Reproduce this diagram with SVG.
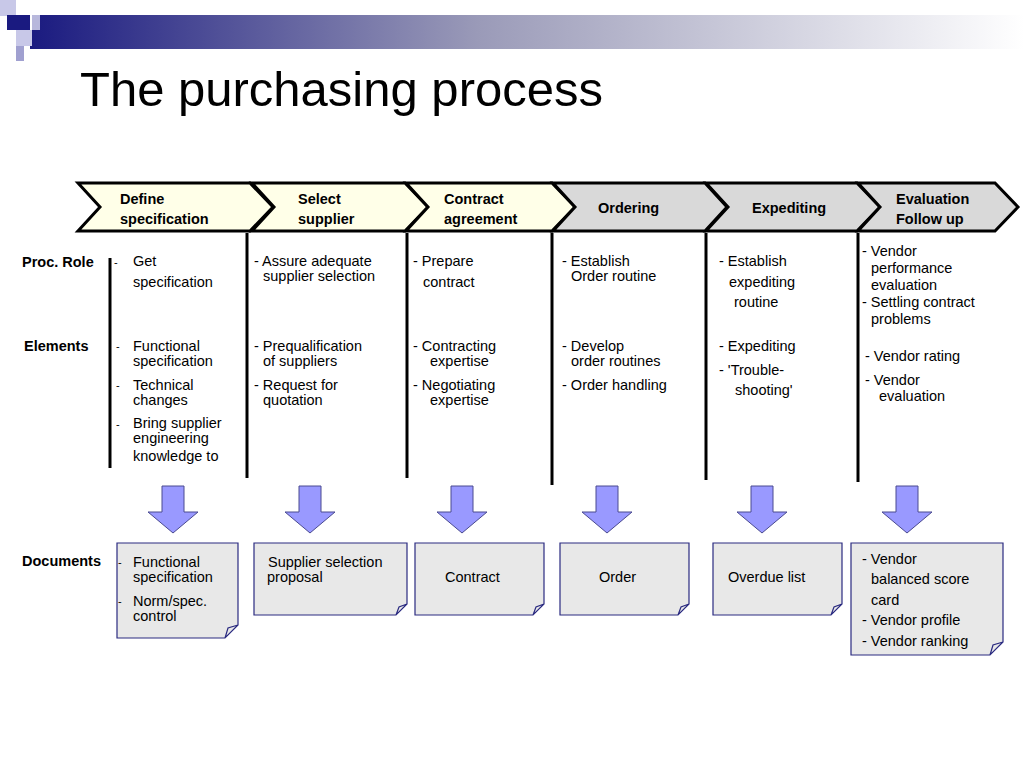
<svg xmlns="http://www.w3.org/2000/svg" width="1024" height="768" viewBox="0 0 1024 768">
<defs>
<linearGradient id="bar" x1="0" x2="1" y1="0" y2="0"><stop offset="0" stop-color="#1a1a80"/><stop offset="0.45" stop-color="#9a9ab8"/><stop offset="1" stop-color="#ffffff"/></linearGradient>
<style>
text{font-family:"Liberation Sans",Arial,sans-serif;font-size:14.5px;fill:#000}
.b{font-weight:bold}
.chy{fill:#ffffe8;stroke:#000;stroke-width:3}
.chg{fill:#d9d9d9;stroke:#000;stroke-width:3}
.vl{stroke:#000;stroke-width:3}
.arr{fill:#9999ff;stroke:#4a4a90;stroke-width:1}
.doc{fill:#e8e8e8;stroke:#2a2a80;stroke-width:1.2}
</style>
</defs>
<rect x="30" y="15" width="994" height="34" fill="url(#bar)"/>
<rect x="0" y="0" width="16" height="16" fill="#c8c8e8"/>
<rect x="7" y="15" width="24" height="15" fill="#1a1a80"/>
<rect x="30" y="15" width="10" height="15" fill="#ffffff"/>
<rect x="16" y="30" width="16" height="16" fill="#c8c8e8"/>
<rect x="32" y="15" width="8" height="15" fill="#b8b8dc"/>
<rect x="16" y="46" width="8" height="15" fill="#a0a0d0"/>
<text x="80" y="106" style="font-size:49px">The purchasing process</text>

<g id="chevrons">
<g id="c1"><polygon class="chy" points="78,183 250,183 273,207 250,231 78,231 100,207"/><text class="b" x="120" y="204">Define</text><text class="b" x="120" y="224">specification</text></g>
<g id="c2"><polygon class="chy" points="252,183 405,183 428,207 405,231 252,231 274,207"/><text class="b" x="298" y="204">Select</text><text class="b" x="298" y="224">supplier</text></g>
<g id="c3"><polygon class="chy" points="406,183 552,183 575,207 552,231 406,231 428,207"/><text class="b" x="444" y="204">Contract</text><text class="b" x="444" y="224">agreement</text></g>
<g id="c4"><polygon class="chg" points="553,183 705,183 727,207 705,231 553,231 575,207"/><text class="b" x="598" y="213">Ordering</text></g>
<g id="c5"><polygon class="chg" points="706,183 857,183 880,207 857,231 706,231 728,207"/><text class="b" x="752" y="213">Expediting</text></g>
<g id="c6"><polygon class="chg" points="858,183 995,183 1018,207 995,231 858,231 880,207"/><text class="b" x="896" y="204">Evaluation</text><text class="b" x="896" y="224">Follow up</text></g>
</g>

<g id="connectors">
<line class="vl" x1="110" y1="258" x2="110" y2="468"/>
<line class="vl" x1="247" y1="233" x2="247" y2="478"/>
<line class="vl" x1="407" y1="233" x2="407" y2="478"/>
<line class="vl" x1="552" y1="233" x2="552" y2="485"/>
<line class="vl" x1="706" y1="233" x2="706" y2="480"/>
<line class="vl" x1="858" y1="233" x2="858" y2="482"/>
<polygon class="arr" points="162,486 184,486 184,512 198,512 173,533 148,512 162,512"/>
<polygon class="arr" points="299,486 321,486 321,512 335,512 310,533 285,512 299,512"/>
<polygon class="arr" points="451,486 473,486 473,512 487,512 462,533 437,512 451,512"/>
<polygon class="arr" points="596,486 618,486 618,512 632,512 607,533 582,512 596,512"/>
<polygon class="arr" points="751,486 773,486 773,512 787,512 762,533 737,512 751,512"/>
<polygon class="arr" points="896,486 918,486 918,512 932,512 907,533 882,512 896,512"/>
</g>

<g id="labels">
<text class="b" x="22" y="267">Proc. Role</text>
<text class="b" x="24" y="351">Elements</text>
<text class="b" x="22" y="566">Documents</text>
</g>

<g id="col1">
<text x="114" y="266" style="font-size:11px">-</text><text x="133" y="266">Get</text><text x="133" y="287">specification</text>
<text x="116" y="350" style="font-size:11px">-</text><text x="133" y="351">Functional</text><text x="133" y="366">specification</text>
<text x="116" y="389" style="font-size:11px">-</text><text x="133" y="390">Technical</text><text x="133" y="405">changes</text>
<text x="116" y="428" style="font-size:11px">-</text><text x="133" y="428">Bring supplier</text><text x="133" y="443">engineering</text><text x="133" y="461">knowledge to</text>
</g>
<g id="col2">
<text x="254" y="266">- Assure adequate</text><text x="263" y="281">supplier selection</text>
<text x="254" y="351">- Prequalification</text><text x="263" y="366">of suppliers</text>
<text x="254" y="390">- Request for</text><text x="263" y="405">quotation</text>
</g>
<g id="col3">
<text x="413" y="266">- Prepare</text><text x="423" y="287">contract</text>
<text x="413" y="351">- Contracting</text><text x="430" y="366">expertise</text>
<text x="413" y="390">- Negotiating</text><text x="430" y="405">expertise</text>
</g>
<g id="col4">
<text x="562" y="266">- Establish</text><text x="571" y="281">Order routine</text>
<text x="562" y="351">- Develop</text><text x="571" y="366">order routines</text>
<text x="562" y="390">- Order handling</text>
</g>
<g id="col5">
<text x="719" y="266">- Establish</text><text x="729" y="287">expediting</text><text x="734" y="307">routine</text>
<text x="719" y="351">- Expediting</text>
<text x="719" y="375">- 'Trouble-</text><text x="735" y="395">shooting'</text>
</g>
<g id="col6">
<text x="862" y="256">- Vendor</text><text x="871" y="273">performance</text><text x="871" y="290">evaluation</text>
<text x="862" y="307">- Settling contract</text><text x="871" y="324">problems</text>
<text x="865" y="361">- Vendor rating</text>
<text x="865" y="385">- Vendor</text><text x="879" y="401">evaluation</text>
</g>

<g id="docs">
<g id="d1"><path class="doc" d="M117,543 H238 V625 L225,638 H117 Z M225,638 L228,628 L238,625"/>
<text x="118" y="566" style="font-size:11px">-</text><text x="133" y="567">Functional</text><text x="133" y="582">specification</text>
<text x="118" y="605" style="font-size:11px">-</text><text x="133" y="606">Norm/spec.</text><text x="133" y="621">control</text></g>
<g id="d2"><path class="doc" d="M254,543 H407 V604 L396,615 H254 Z M396,615 L399,607 L407,604"/><text x="268" y="567">Supplier selection</text><text x="267" y="582">proposal</text></g>
<g id="d3"><path class="doc" d="M415,543 H544 V604 L533,615 H415 Z M533,615 L536,607 L544,604"/><text x="445" y="582">Contract</text></g>
<g id="d4"><path class="doc" d="M560,543 H689 V604 L678,615 H560 Z M678,615 L681,607 L689,604"/><text x="599" y="582">Order</text></g>
<g id="d5"><path class="doc" d="M713,543 H842 V604 L831,615 H713 Z M831,615 L834,607 L842,604"/><text x="728" y="582">Overdue list</text></g>
<g id="d6"><path class="doc" d="M851,543 H1003 V642 L990,655 H851 Z M990,655 L993,645 L1003,642"/>
<text x="862" y="564">- Vendor</text><text x="871" y="584">balanced score</text><text x="871" y="605">card</text><text x="862" y="625">- Vendor profile</text><text x="862" y="646">- Vendor ranking</text></g>
</g>
</svg>
